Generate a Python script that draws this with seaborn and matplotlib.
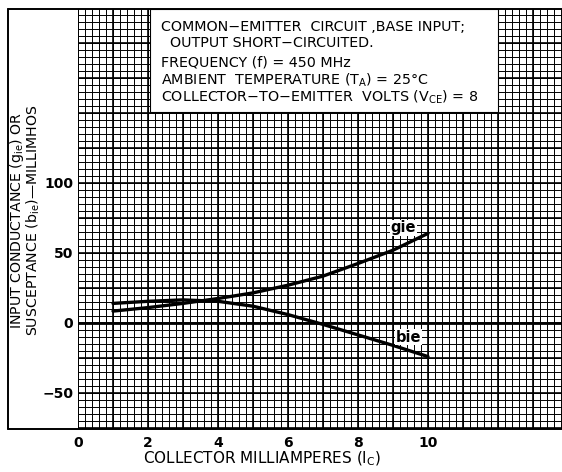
import numpy as np
import pandas as pd
import matplotlib
matplotlib.use("Agg")
import matplotlib.pyplot as plt
from matplotlib.lines import Line2D
from matplotlib.patches import Rectangle
import seaborn as sns

# ---- data ----
collector_ma = [1, 2, 3, 4, 5, 6, 7, 8, 9, 10]
gie_values = [8.5, 11.0, 14.0, 17.5, 21.5, 27.0, 33.5, 42.5, 52.0, 64.0]
bie_values = [14.0, 15.5, 16.5, 15.5, 12.0, 6.0, -1.0, -8.5, -16.0, -24.0]
series_names = ["gie", "bie"]

x_tick_values = [0, 2, 4, 6, 8, 10]
x_tick_labels = ["0", "2", "4", "6", "8", "10"]
y_tick_values = [-50, 0, 50, 100]
y_tick_labels = ["\u221250", "0", "50", "100"]

box_lines = [
    "COMMON\u2212EMITTER  CIRCUIT ,BASE INPUT;",
    "  OUTPUT SHORT\u2212CIRCUITED.",
    "FREQUENCY (f) = 450 MHz",
    "AMBIENT  TEMPERATURE ($\\mathregular{T_A}$) = 25°C",
    "COLLECTOR\u2212TO\u2212EMITTER  VOLTS ($\\mathregular{V_{CE}}$) = 8",
]
x_label = "COLLECTOR MILLIAMPERES ($\\mathregular{I_C}$)"
y_label = ("INPUT CONDUCTANCE ($\\mathregular{g_{ie}}$) OR\n"
           "SUSCEPTANCE ($\\mathregular{b_{ie}}$)\u2014MILLIMHOS")

df = pd.DataFrame({
    "Ic": collector_ma * 2,
    "value": gie_values + bie_values,
    "series": [series_names[0]] * len(collector_ma) + [series_names[1]] * len(collector_ma),
})

sns.set_style("white")
plt.rcParams["font.family"] = ["DejaVu Sans"]
for k in ["text.color", "axes.labelcolor", "xtick.color", "ytick.color"]:
    plt.rcParams[k] = "black"

W, H = 562, 472
fig = plt.figure(figsize=(W / 100, H / 100), dpi=100)
left_px, right_px, top_px, bottom_px = 78, 562, 9, 429
ax = fig.add_axes([left_px / W, 1 - bottom_px / H,
                   (right_px - left_px) / W, (bottom_px - top_px) / H])

xmin, xmax = 0, (right_px - left_px) / 35.0
ymin, ymax = -(bottom_px - 323) / 1.4, (323 - top_px) / 1.4
ax.set_xlim(xmin, xmax)
ax.set_ylim(ymin, ymax)

# graph-paper grid
for xv in np.arange(0, xmax + 1e-9, 0.2):
    ax.axvline(xv, color="black", lw=0.7, zorder=1)
for xv in np.arange(0, xmax + 1e-9, 1.0):
    ax.axvline(xv, color="black", lw=1.2, zorder=1)
for yv in np.arange(-75, ymax + 1e-9, 5):
    ax.axhline(yv, color="black", lw=0.7, zorder=1)
for yv in np.arange(-75, ymax + 1e-9, 25):
    ax.axhline(yv, color="black", lw=1.2, zorder=1)
ax.axhline(0, color="black", lw=2.0, zorder=2)

sns.lineplot(data=df, x="Ic", y="value", hue="series",
             palette={"gie": "black", "bie": "black"},
             linewidth=2.4, legend=False, ax=ax, zorder=4)

# curve labels
ax.text(9.3, 68, "gie", fontsize=10.5, fontweight="bold", ha="center", va="center",
        zorder=5, bbox=dict(facecolor="white", edgecolor="none", pad=0.5))
ax.text(9.45, -10, "bie", fontsize=10.5, fontweight="bold", ha="center", va="center",
        zorder=5, bbox=dict(facecolor="white", edgecolor="none", pad=0.5))

# annotation box
bx0, bx1 = (150 - 78) / 35.0, (498 - 78) / 35.0
by0 = (323 - 112) / 1.4
ax.add_patch(Rectangle((bx0, by0), bx1 - bx0, ymax - by0, facecolor="white",
                       edgecolor="black", lw=0.8, zorder=6))
line_y_px = [27, 43, 62, 80, 97]
line_x_px = [161, 161, 161, 161, 161]
for txt, xp, yp in zip(box_lines, line_x_px, line_y_px):
    fig.text(xp / W, 1 - yp / H, txt, fontsize=10.3, ha="left", va="center", zorder=7)

# ticks
ax.set_xticks(x_tick_values)
ax.set_xticklabels(x_tick_labels, fontsize=10, fontweight="bold")
ax.set_yticks(y_tick_values)
ax.set_yticklabels(y_tick_labels, fontsize=10, fontweight="bold")
ax.tick_params(axis="both", length=0)
ax.tick_params(axis="x", pad=5)
ax.tick_params(axis="y", pad=3.5)
for s in ax.spines.values():
    s.set_visible(False)
ax.set_xlabel("")
ax.set_ylabel("")

fig.text(262 / W, 1 - 459 / H, x_label, fontsize=11, ha="center", va="center")
fig.text(25 / W, 1 - 220 / H, y_label, fontsize=10.2, ha="center", va="center",
         rotation=90, multialignment="center", linespacing=0.92)

# outer frame
fl, ft, fb = 8, 9, 429
fig.add_artist(Line2D([fl / W, fl / W], [1 - ft / H, 1 - fb / H], color="black", lw=1.4))
fig.add_artist(Line2D([fl / W, 1], [1 - fb / H, 1 - fb / H], color="black", lw=1.4))
fig.add_artist(Line2D([fl / W, 1], [1 - ft / H, 1 - ft / H], color="black", lw=1.4))

fig.savefig("out.png", dpi=100, facecolor="white")
